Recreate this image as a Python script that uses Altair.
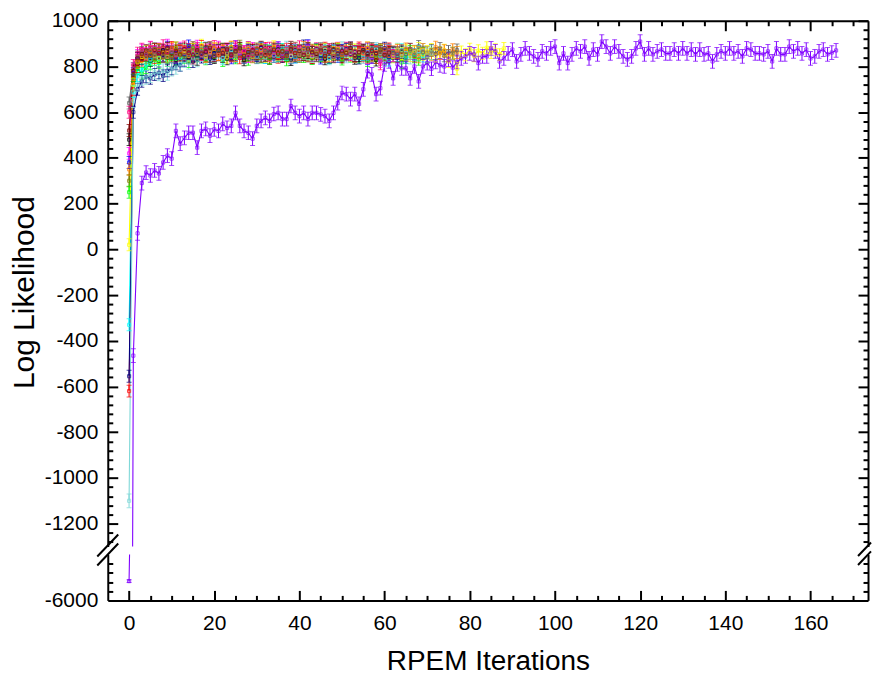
import altair as alt
import pandas as pd

# ---------------- data ----------------
series_names = ["black", "red", "green", "blue", "cyan", "magenta", "yellow", "olive",
                "navy", "lightcyan", "pink", "orange", "gray", "wine", "violet"]
series_colors = ["#000000", "#FF0000", "#00FF00", "#0000FF", "#00FFFF", "#FF00FF", "#FFFF00", "#808000",
                 "#000080", "#7FD8D8", "#FF0080", "#FF8000", "#606060", "#800000", "#8000FF"]
series_err = [26, 26, 26, 26, 26, 26, 26, 26, 26, 30, 26, 26, 26, 26, 30]

black = [480, 760, 812, 835, 848, 826, 859, 842, 871, 838, 855, 829, 866, 850, 844, 873, 831, 858, 847, 862,
         839, 851, 876, 834, 857, 845, 868, 829, 853, 861, 840, 872, 849, 836, 858, 864, 843, 855, 830, 869,
         847, 852, 861, 838, 874, 846, 833, 859, 851, 866, 842, 857, 870, 836, 848, 863, 845, 854, 828, 866,
         851, 843, 859, 847, 862, 840]
red = [-620, 700, 800, 828, 851, 864, 839, 872, 846, 858, 883, 841, 866, 852, 874, 837, 860, 888, 845, 869,
       851, 877, 843, 862, 856, 881, 838, 865, 849, 872, 858, 844, 879, 853, 866, 840, 871, 857, 884, 848,
       863, 852, 875, 839, 868, 856, 880, 845, 861, 870, 842, 876, 855, 864, 881, 847, 858, 872, 839, 866,
       851, 877, 860, 843, 869, 853, 874, 846, 862, 857]
green = [250, 740, 790, 770, 795, 812, 830, 818, 845, 826, 852, 834, 861, 840, 822, 856, 847, 868, 833, 859,
         844, 871, 826, 853, 862, 838, 875, 849, 831, 864, 852, 841, 869, 836, 858, 847, 873, 829, 861, 850,
         866, 843, 857, 835, 870, 848, 862, 839, 855, 874, 832, 859, 846, 867, 841, 853, 826, 863, 849, 871,
         837, 856, 844, 860, 818, 849, 866, 842, 831, 857]
blue = [380, 770, 835, 852, 867, 842, 878, 856, 849, 884, 861, 838, 872, 855, 890, 846, 866, 859, 880, 843,
        869, 852, 875, 861, 838, 886, 857, 845, 871, 863, 851, 879, 840, 866, 854, 882, 847, 860, 873, 842,
        868, 856, 891, 849, 862, 837, 875, 858, 866, 843, 870, 855, 881, 846, 861, 852, 877, 839, 864, 857,
        872, 848, 860]
cyan = [-330, 690, 760, 785, 808, 829, 846, 835, 859, 841, 866, 852, 838, 871, 847, 860, 855, 878, 842, 864,
        851, 869, 837, 858, 873, 846, 862, 850, 881, 843, 866, 855, 839, 870, 858, 847, 874, 852, 863, 841,
        868, 856, 879, 845, 861, 853, 872, 838, 865, 857, 848, 876, 843, 859, 867, 851, 834, 862, 870, 845,
        856, 828, 861, 849, 873, 840, 857, 852, 866, 846, 860, 855]
magenta = [420, 790, 848, 871, 856, 884, 862, 877, 845, 893, 868, 851, 880, 859, 872, 846, 889, 863, 855, 876,
           849, 884, 861, 870, 852, 887, 858, 866, 843, 879, 862, 855, 874, 848, 869, 881, 856, 863, 845, 877,
           860, 852, 886, 864, 849, 872, 857, 868, 843, 880, 861, 854, 875, 847, 866, 859, 878, 841, 863, 822,
           856, 871, 848]
yellow = [20, 720, 818, 842, 866, 851, 877, 839, 860, 872, 845, 881, 856, 868, 849, 874, 858, 893, 846, 862,
          877, 853, 869, 840, 884, 857, 866, 848, 879, 861, 855, 872, 843, 868, 886, 852, 863, 875, 846, 859,
          871, 854, 880, 843, 866, 858, 874, 849, 862, 877, 852, 868, 845, 873, 860, 855, 881, 847, 864, 870,
          851, 866, 842, 875, 857, 869, 848, 862, 879, 853, 866, 874, 845, 860, 871, 822, 858, 790, 864, 851,
          876, 847, 869, 858, 882, 861, 873, 852, 879]
olive = [300, 760, 825, 848, 839, 861, 852, 873, 844, 866, 858, 881, 849, 862, 871, 843, 868, 855, 879, 846,
         863, 852, 874, 859, 848, 866, 889, 851, 862, 845, 877, 856, 868, 840, 862, 873, 849, 858, 866, 880,
         844, 860, 853, 871, 847, 864, 857, 875, 842, 869, 852, 861, 878, 846, 858, 866, 850, 872, 839, 863,
         855, 868]
navy = [-555, 600, 700, 735, 755, 748, 765, 772, 760, 781, 790, 812, 805, 827, 838, 822, 849, 841, 862, 835,
        856, 870, 844, 858, 877, 851, 866, 839, 872, 855, 848, 881, 859, 866, 843, 874, 856, 862, 838, 869,
        853, 890, 847, 861, 875, 852, 866, 841, 870, 858, 849, 876, 855, 863, 837, 871, 860, 846, 868, 854,
        880, 842, 862, 857]
lightcyan = [-1100, 650, 720, 748, 752, 760, 775, 768, 782, 770, 788, 796, 810, 825, 818, 836, 829, 852, 841, 860,
             847, 866, 838, 858, 873, 851, 864, 845, 870, 856, 842, 876, 853, 861, 848, 868, 857, 880, 844, 866,
             852, 873, 859, 847, 871, 855, 862, 838, 867, 850, 878, 846, 861, 855, 869, 843, 864, 851, 875, 858,
             829, 866, 849, 872, 845, 858, 841, 863, 854, 870, 848, 861]
pink = [600, 805, 858, 876, 849, 882, 866, 858, 891, 862, 875, 848, 870, 885, 857, 866, 879, 852, 872, 861,
        888, 853, 869, 877, 846, 874, 862, 858, 883, 850, 871, 866, 855, 880, 859, 868, 847, 876, 863, 853,
        886, 860, 871, 849, 878, 864, 856, 873, 845, 869, 862, 880, 851, 866, 874, 858, 839, 870, 861, 812,
        853, 866, 847, 860]
orange = [350, 745, 822, 851, 838, 866, 847, 873, 859, 842, 879, 853, 868, 861, 846, 882, 856, 871, 843, 864,
          877, 852, 866, 858, 884, 848, 869, 855, 876, 842, 863, 871, 857, 849, 880, 861, 866, 845, 874, 858,
          852, 883, 847, 868, 860, 873, 844, 866, 855, 878, 850, 862, 871, 843, 869, 857, 881, 849, 864, 856,
          875, 846, 863, 870, 852, 877, 858, 866, 842, 874, 860, 853, 884, 857, 869, 848, 873, 861]
gray = [640, 790, 842, 861, 850, 872, 856, 868, 845, 879, 860, 853, 874, 848, 866, 882, 857, 863, 851, 877,
        846, 869, 858, 873, 852, 866, 880, 847, 862, 855, 871, 844, 868, 859, 876, 850, 864, 857, 883, 845,
        866, 852, 872, 861, 848, 878, 855, 866, 843, 870, 859, 851, 874, 846, 862, 868, 853, 879, 857, 864,
        849, 872, 860, 845, 867, 855, 876, 850, 888, 862, 841, 870, 856, 879, 847, 866, 858, 872]
wine = [520, 780, 836, 855, 869, 848, 874, 858, 862, 880, 845, 868, 853, 877, 860, 849, 871, 856, 865, 882,
        847, 869, 858, 874, 851, 866, 879, 846, 863, 870, 855, 884, 849, 861, 872, 857, 866, 848, 875, 859,
        868, 851, 879, 862, 855, 870, 846, 864, 876, 853, 867, 859, 881, 848, 862, 871, 854, 866, 858, 873,
        850, 861]
violet = [-5580, -465, 70, 290, 336, 323, 345, 332, 380, 410, 397, 518, 462, 488, 510, 510, 445, 518, 527, 497,
          525, 518, 549, 531, 540, 597, 540, 518, 510, 484, 540, 562, 575, 562, 592, 597, 570, 570, 627, 597,
          583, 597, 570, 597, 597, 590, 583, 562, 597, 640, 684, 679, 657, 679, 636, 700, 779, 765, 679, 705,
          809, 822, 748, 809, 792, 792, 748, 800, 735, 800, 815, 790, 820, 805, 800, 830, 795, 820, 835, 844,
          857, 853, 815, 844, 844, 879, 866, 822, 835, 857, 874, 822, 853, 879, 857, 844, 831, 866, 857, 879,
          887, 815, 857, 815, 853, 879, 866, 887, 835, 874, 853, 909, 887, 857, 887, 866, 844, 831, 844, 879,
          909, 853, 879, 853, 866, 874, 857, 857, 874, 857, 879, 857, 874, 853, 874, 853, 857, 822, 853, 866,
          857, 879, 857, 866, 844, 879, 874, 857, 857, 853, 866, 822, 879, 853, 853, 887, 866, 879, 857, 874,
          835, 844, 866, 874, 853, 861, 870]

series_values = [black, red, green, blue, cyan, magenta, yellow, olive,
                 navy, lightcyan, pink, orange, gray, wine, violet]

x_major = [0, 20, 40, 60, 80, 100, 120, 140, 160]
x_minor = [v for v in range(5, 175, 5) if v % 20 != 0]
y1_major = list(range(-1200, 1001, 200))
y1_minor = [v for v in range(-1280, 1000, 40) if v % 200 != 0]
y2_major = [-6000]
y2_minor = [-5800, -5600, -5400, -5200]

rows = []
for name, vals, err in zip(series_names, series_values, series_err):
    for i, v in enumerate(vals):
        rows.append({"series": name, "iter": i, "ll": v, "lo": v - err, "hi": v + err})
df = pd.DataFrame(rows)

# ---------------- layout ----------------
W, H1, H2 = 762, 527, 46
FONT = "Liberation Sans"
xs = alt.Scale(domain=[-5, 173.5], nice=False, zero=False)
y1s = alt.Scale(domain=[-1300, 1000], nice=False, zero=False)
y2s = alt.Scale(domain=[-6000, -5000], nice=False, zero=False)
color = alt.Color("series:N", scale=alt.Scale(domain=series_names, range=series_colors), legend=None)
LBL = "datum.value < 0 ? '-' + abs(datum.value) : '' + datum.value"


def ax(**kw):
    base = dict(title=None, grid=False, labels=False, ticks=False, domain=False)
    base.update(kw)
    return alt.Axis(**base)


def panel(ys, axes):
    base = alt.Chart(df)
    lines = base.mark_line(strokeWidth=1.1, clip=True).encode(
        x=alt.X("iter:Q", scale=xs, axis=axes[0][0]),
        y=alt.Y("ll:Q", scale=ys, axis=axes[0][1]),
        color=color)
    stems = base.mark_rule(strokeWidth=1, clip=True).encode(
        x=alt.X("iter:Q", scale=xs, axis=axes[1][0]),
        y=alt.Y("lo:Q", scale=ys, axis=axes[1][1]),
        y2="hi:Q", color=color)
    caps_lo = base.mark_tick(orient="horizontal", size=5, thickness=1, clip=True).encode(
        x=alt.X("iter:Q", scale=xs, axis=axes[2][0]),
        y=alt.Y("lo:Q", scale=ys, axis=axes[2][1]),
        color=color)
    caps_hi = base.mark_tick(orient="horizontal", size=5, thickness=1, clip=True).encode(
        x=alt.X("iter:Q", scale=xs, axis=axes[3][0]),
        y=alt.Y("hi:Q", scale=ys, axis=axes[3][1]),
        color=color)
    pts = base.mark_point(shape="square", filled=False, size=10, strokeWidth=1, clip=True).encode(
        x=alt.X("iter:Q", scale=xs, axis=axes[4][0]),
        y=alt.Y("ll:Q", scale=ys, axis=axes[4][1]),
        color=color)
    return [lines, stems, caps_lo, caps_hi, pts]


upper_axes = [
    (ax(orient="bottom", offset=-H1, domain=True, ticks=True, values=x_major, tickSize=10),
     ax(orient="left", labels=True, domain=True, values=y1_major, labelPadding=10, labelExpr=LBL,
        title="Log Likelihood", titlePadding=5, titleFontSize=30, titleY=272)),
    (ax(orient="bottom", offset=-H1, ticks=True, values=x_minor, tickSize=5),
     ax(orient="right", offset=-W, ticks=True, values=y1_major, tickSize=10)),
    (None, ax(orient="right", offset=-W, ticks=True, values=y1_minor, tickSize=5)),
    (None, ax(orient="left", offset=-W, ticks=True, domain=True, values=y1_major, tickSize=10)),
    (None, ax(orient="left", offset=-W, ticks=True, values=y1_minor, tickSize=5)),
]
lower_axes = [
    (ax(orient="bottom", labels=True, domain=True, values=x_major, labelPadding=12,
        title="RPEM Iterations", titlePadding=14),
     ax(orient="left", labels=True, domain=True, values=y2_major, labelPadding=10, labelExpr=LBL)),
    (ax(orient="top", offset=-H2, ticks=True, values=x_major, tickSize=10),
     ax(orient="right", offset=-W, ticks=True, values=y2_minor, tickSize=5)),
    (ax(orient="top", offset=-H2, ticks=True, values=x_minor, tickSize=5),
     ax(orient="left", offset=-W, ticks=True, domain=True, values=y2_minor, tickSize=5)),
    (None, None),
    (None, None),
]

upper = alt.layer(*panel(y1s, upper_axes)).resolve_axis(x="independent", y="independent") \
    .properties(width=W, height=H1)

# axis-break slashes (decoration only)
one = pd.DataFrame({"k": [0]})
slash_segments = [
    (-10.5, 2, 10.5, -20), (-10.5, 11, 10.5, -11),            # left frame
    (W - 10, 1.5, W + 3, -12.1), (W - 10, 10.5, W + 3, -3.1),  # right frame
]
slashes = [
    alt.Chart(one).mark_rule(color="black", strokeWidth=2, clip=False).encode(
        x=alt.value(xa), y=alt.value(ya), x2=alt.value(xb), y2=alt.value(yb))
    for (xa, ya, xb, yb) in slash_segments
]

lower = alt.layer(*panel(y2s, lower_axes), *slashes).resolve_axis(x="independent", y="independent") \
    .properties(width=W, height=H2)

chart = alt.vconcat(upper, lower, spacing=8, bounds="flush").properties(
    padding={"left": 0, "top": 0, "right": 0, "bottom": 0}
).configure_axis(
    labelFont=FONT, titleFont=FONT, labelFontSize=21, titleFontSize=28, titleFontWeight="normal",
    labelColor="black", titleColor="black", domainColor="black", tickColor="black",
    domainWidth=2, tickWidth=2
).configure_view(stroke="transparent")

chart.save("out.html", embed_options={"renderer": "svg", "actions": False})
